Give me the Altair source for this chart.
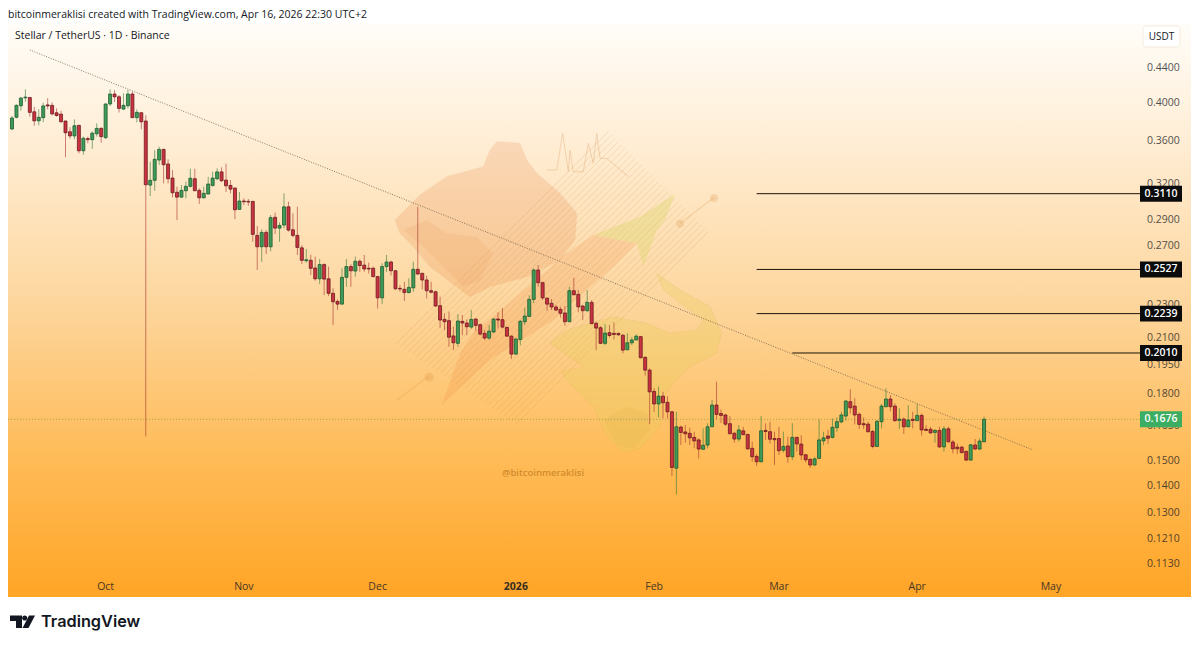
import altair as alt
import pandas as pd

# Daily XLM/USDT candles
opens = [
    .3713, .3834, .3957, .4044, .4047, .3892, .3797, .3830, .3966, .3961,
    .3881, .3867, .3795, .3685, .3643, .3750, .3498, .3616, .3606, .3665,
    .3719, .3626, .3976, .4086, .4055, .3921, .3957, .4086, .3830, .3882,
    .3795, .3184, .3226, .3410, .3511, .3373, .3246, .3122, .3081, .3135,
    .3173, .3240, .3138, .3075, .3107, .3181, .3240, .3301, .3228, .3181,
    .3158, .2979, .3048, .3045, .3045, .2774, .2689, .2797, .2689, .2915,
    .2830, .2854, .3000, .2817, .2774, .2681, .2588, .2591, .2537, .2463,
    .2561, .2463, .2367, .2315, .2298, .2473, .2547, .2516, .2584, .2557,
    .2535, .2535, .2478, .2338, .2547, .2579, .2518, .2399, .2393, .2372,
    .2403, .2528, .2500, .2455, .2384, .2377, .2288, .2204, .2196, .2106,
    .2064, .2192, .2182, .2158, .2206, .2172, .2121, .2094, .2129, .2206,
    .2202, .2156, .2105, .2004, .2086, .2190, .2222, .2328, .2523, .2437,
    .2336, .2303, .2280, .2265, .2243, .2190, .2384, .2360, .2286, .2257,
    .2309, .2180, .2154, .2064, .2125, .2121, .2121, .2110, .2028, .2067,
    .2083, .2102, .1986, .1918, .1809, .1748, .1786, .1756, .1711, .1466,
    .1641, .1619, .1613, .1595, .1584, .1544, .1562, .1642, .1743, .1703,
    .1696, .1656, .1613, .1588, .1624, .1608, .1548, .1514, .1492, .1626,
    .1620, .1590, .1590, .1540, .1558, .1513, .1595, .1566, .1521, .1502,
    .1479, .1506, .1580, .1601, .1595, .1638, .1664, .1691, .1759, .1738,
    .1699, .1656, .1654, .1621, .1556, .1665, .1735, .1772, .1738, .1671,
    .1677, .1642, .1676, .1670, .1694, .1631, .1631, .1617, .1626, .1554,
    .1633, .1575, .1553, .1553, .1535, .1499, .1562, .1545, .1576,
]
closes = [
    .3826, .3961, .4041, .4052, .3886, .3797, .3834, .3955, .3955, .3870,
    .3853, .3787, .3675, .3643, .3746, .3498, .3620, .3606, .3671, .3719,
    .3636, .3976, .4086, .4055, .3929, .3961, .4086, .3830, .3886, .3787,
    .3187, .3226, .3417, .3511, .3367, .3240, .3118, .3081, .3138, .3173,
    .3244, .3135, .3075, .3113, .3193, .3246, .3301, .3222, .3178, .3149,
    .2976, .3048, .3042, .3040, .2782, .2689, .2797, .2689, .2912, .2830,
    .2851, .3000, .2815, .2774, .2684, .2591, .2595, .2535, .2463, .2561,
    .2461, .2367, .2313, .2298, .2473, .2547, .2518, .2584, .2554, .2530,
    .2530, .2478, .2338, .2547, .2579, .2518, .2397, .2395, .2372, .2406,
    .2528, .2496, .2455, .2384, .2374, .2286, .2200, .2190, .2099, .2067,
    .2194, .2182, .2160, .2204, .2168, .2117, .2094, .2134, .2206, .2200,
    .2158, .2105, .2004, .2088, .2192, .2224, .2328, .2523, .2437, .2338,
    .2298, .2280, .2261, .2241, .2190, .2384, .2358, .2281, .2257, .2309,
    .2178, .2152, .2064, .2123, .2109, .2115, .2113, .2026, .2067, .2083,
    .2105, .1984, .1918, .1807, .1748, .1786, .1754, .1711, .1469, .1642,
    .1617, .1611, .1593, .1580, .1545, .1561, .1642, .1743, .1699, .1694,
    .1654, .1611, .1588, .1628, .1607, .1546, .1513, .1492, .1624, .1621,
    .1587, .1585, .1538, .1556, .1513, .1595, .1567, .1520, .1500, .1479,
    .1504, .1584, .1593, .1591, .1640, .1665, .1696, .1762, .1730, .1696,
    .1653, .1651, .1620, .1556, .1667, .1738, .1772, .1735, .1670, .1677,
    .1642, .1673, .1671, .1694, .1628, .1626, .1615, .1626, .1554, .1633,
    .1576, .1546, .1546, .1530, .1499, .1563, .1545, .1579, .1676,
]
highs = [
    .3847, .3972, .4055, .4139, .4055, .3946, .3918, .3990, .4041, .3994,
    .3929, .3903, .3797, .3731, .3812, .3754, .3636, .3636, .3688, .3770,
    .3731, .3983, .4139, .4131, .4074, .4094, .4131, .4112, .3918, .3886,
    .3856, .3394, .3505, .3537, .3517, .3417, .3318, .3170, .3184, .3213,
    .3330, .3330, .3156, .3170, .3257, .3303, .3333, .3343, .3376, .3228,
    .3164, .3124, .3071, .3065, .3048, .2846, .2820, .2815, .2933, .2952,
    .2875, .3113, .3042, .2947, .3000, .2700, .2672, .2631, .2617, .2600,
    .2570, .2547, .2399, .2328, .2535, .2600, .2564, .2617, .2598, .2629,
    .2575, .2547, .2483, .2570, .2629, .2588, .2523, .2421, .2443, .2466,
    .2581, .3000, .2505, .2483, .2443, .2384, .2345, .2241, .2251, .2160,
    .2235, .2231, .2204, .2261, .2210, .2180, .2140, .2170, .2210, .2247,
    .2273, .2160, .2110, .2094, .2200, .2275, .2354, .2535, .2558, .2443,
    .2338, .2330, .2292, .2281, .2286, .2410, .2470, .2388, .2292, .2388,
    .2324, .2190, .2164, .2176, .2170, .2186, .2125, .2117, .2121, .2098,
    .2115, .2106, .1993, .1927, .1825, .1833, .1807, .1786, .1715, .1711,
    .1647, .1650, .1638, .1620, .1591, .1635, .1658, .1767, .1858, .1722,
    .1700, .1691, .1620, .1650, .1642, .1610, .1576, .1524, .1691, .1658,
    .1665, .1620, .1642, .1620, .1598, .1658, .1598, .1604, .1524, .1506,
    .1510, .1676, .1620, .1628, .1680, .1685, .1711, .1767, .1820, .1775,
    .1708, .1685, .1665, .1628, .1673, .1748, .1825, .1791, .1751, .1727,
    .1685, .1743, .1711, .1748, .1703, .1650, .1642, .1631, .1642, .1645,
    .1642, .1584, .1569, .1559, .1538, .1566, .1588, .1591, .1688,
]
lows = [
    .3702, .3823, .3903, .4001, .3840, .3746, .3750, .3784, .3918, .3853,
    .3840, .3781, .3436, .3616, .3610, .3473, .3460, .3570, .3517, .3636,
    .3576, .3613, .3955, .3998, .3884, .3914, .3929, .3830, .3781, .3710,
    .1600, .3090, .3135, .3364, .3199, .3199, .3079, .2893, .3075, .3071,
    .3164, .3135, .3024, .3071, .3105, .3170, .3228, .3213, .3124, .3113,
    .2901, .2974, .3014, .3008, .2726, .2523, .2581, .2636, .2656, .2784,
    .2726, .2828, .2802, .2759, .2629, .2564, .2575, .2489, .2450, .2428,
    .2356, .2349, .2170, .2261, .2296, .2410, .2410, .2478, .2511, .2511,
    .2500, .2473, .2271, .2298, .2511, .2485, .2388, .2377, .2318, .2367,
    .2376, .2489, .2393, .2334, .2367, .2281, .2154, .2140, .2045, .2026,
    .2045, .2110, .2110, .2148, .2134, .2110, .2083, .2083, .2125, .2150,
    .2150, .2102, .1977, .2000, .2054, .2170, .2220, .2303, .2410, .2324,
    .2257, .2261, .2255, .2214, .2166, .2188, .2354, .2247, .2200, .2251,
    .2176, .2026, .2060, .2054, .2098, .2086, .2106, .2008, .2026, .2054,
    .2083, .1981, .1889, .1654, .1711, .1685, .1680, .1680, .1435, .1364,
    .1562, .1572, .1562, .1548, .1506, .1541, .1548, .1642, .1676, .1660,
    .1645, .1610, .1572, .1576, .1606, .1541, .1492, .1475, .1491, .1584,
    .1569, .1479, .1520, .1530, .1488, .1499, .1534, .1499, .1488, .1468,
    .1476, .1503, .1561, .1566, .1591, .1620, .1658, .1670, .1703, .1653,
    .1632, .1632, .1617, .1548, .1554, .1635, .1732, .1713, .1665, .1632,
    .1610, .1640, .1635, .1669, .1603, .1623, .1610, .1572, .1551, .1534,
    .1573, .1527, .1524, .1527, .1496, .1498, .1541, .1541, .1575,
]

price_ticks = [.44, .40, .36, .32, .29, .27, .23, .21, .195, .18, .165, .15, .14, .13, .121, .113]
month_dates = ["2025-10-01", "2025-11-01", "2025-12-01", "2026-01-01",
               "2026-02-01", "2026-03-01", "2026-04-01", "2026-05-01"]
month_labels = ["Oct", "Nov", "Dec", "2026", "Feb", "Mar", "Apr", "May"]

level_prices = [.3110, .2527, .2239, .2010]
level_starts = ["2026-02-24", "2026-02-24", "2026-02-24", "2026-03-04"]
level_end = "2026-05-21"
last_price = .1676
trend_dates = ["2025-09-14", "2026-04-27"]
trend_prices = [.4610, .1541]

FONT = "Open Sans"
dates = pd.date_range("2025-09-10", periods=len(opens)).strftime("%Y-%m-%d")
candles = pd.DataFrame({"date": dates, "open": opens, "high": highs, "low": lows, "close": closes})
candles["dir"] = ["up" if c >= o else "down" for o, c in zip(opens, closes)]

# padding=0: a bar layer would otherwise pad the time scale and squeeze the candles
x_scale = alt.Scale(type="utc", domain=["2025-09-09T02:28:00Z", "2026-06-01T09:50:00Z"], padding=0)
y_scale = alt.Scale(type="log", domain=[.10301, .4964], nice=False)
X = lambda f: alt.X(f, type="temporal", scale=x_scale, axis=None)
Y = lambda f: alt.Y(f, type="quantitative", scale=y_scale, axis=None)


# watermark and logo outlines, given as page pixels of the crop (view starts at 8,23)
def outline(points, ox=380, oy=120, k=3, close=True):
    pts = [(ox + a / k - 8, oy + b / k - 23) for a, b in points]
    d = "M" + " L".join(f"{a:.1f},{b:.1f}" for a, b in pts)
    return d + (" Z" if close else "")


def dot(a, b, r, ox=380, oy=120, k=3):
    x, y = ox + a / k - 8, oy + b / k - 23
    return f"M{x - r:.1f},{y:.1f} a{r},{r} 0 1,0 {2 * r},0 a{r},{r} 0 1,0 {-2 * r},0 Z"


def symbol(path, **kw):
    return alt.Chart(pd.DataFrame({"a": [0]})).mark_point(shape=path, size=4, **kw).encode(
        x=alt.value(0), y=alt.value(0))


bear = outline([(350, 65), (420, 70), (440, 120), (470, 160), (540, 220), (590, 280), (585, 360),
                (540, 420), (440, 470), (330, 500), (270, 530), (230, 500), (150, 440), (100, 380),
                (60, 340), (45, 300), (80, 265), (120, 225), (200, 170), (310, 140), (330, 90)])
bear_jaw = outline([(70, 330), (140, 300), (200, 340), (290, 350), (340, 400), (300, 480), (250, 500),
                    (170, 420), (130, 380)])
arrow_head = outline([(885, 222), (855, 300), (830, 330), (790, 440), (770, 370), (640, 345), (780, 290)])
arrow_tail = outline([(770, 370), (640, 345), (560, 400), (420, 520), (280, 640), (240, 700), (185, 855),
                      (330, 720), (520, 600), (700, 440)])
bull = outline([(830, 460), (900, 510), (990, 560), (1025, 640), (1010, 700), (930, 740), (880, 790),
                (850, 830), (840, 920), (780, 985), (730, 1000), (680, 950), (640, 860), (560, 780),
                (545, 755), (610, 740), (510, 670), (560, 630), (700, 590), (800, 610), (870, 640),
                (950, 630), (970, 600), (900, 550), (850, 510)])
bull_muzzle = outline([(670, 900), (740, 860), (800, 880), (810, 930), (760, 985), (710, 975)])
spike = outline([(500, 150), (530, 150), (548, 40), (565, 155), (570, 90), (580, 155), (610, 155),
                 (625, 70), (640, 130), (650, 40), (660, 115), (680, 115), (745, 170)], close=False)
hatch = " ".join(
    outline([(90 + (c - 790) * .6, c - 90 - (c - 790) * .6),
             (720 + (c - 790) * .5, c - 720 - (c - 790) * .5)], close=False)
    for c in range(720, 1330, 20))
sticks = " ".join([outline([(50, 840), (145, 770)], close=False), outline([(900, 310), (1000, 235)], close=False)])
dots = " ".join([dot(148, 772, 4.5), dot(1002, 234, 4), dot(900, 311, 4)])
logo_t = outline([(10, 615.5), (22, 615.5), (22, 628), (16, 628), (16, 621), (10, 621)], 0, 0, 1)
logo_s = outline([(29, 615.5), (35, 615.5), (28.5, 628), (22.5, 628)], 0, 0, 1)
logo_c = dot(24.7, 618, 2.6, 0, 0, 1)

background = alt.Chart(pd.DataFrame({"a": [0]})).mark_rect(
    color=alt.Gradient(gradient="linear", x1=0, x2=0, y1=0, y2=1, stops=[
        alt.GradientStop(offset=0, color="#fffdf9"),
        alt.GradientStop(offset=.2, color="#ffeed6"),
        alt.GradientStop(offset=.5, color="#fdd59b"),
        alt.GradientStop(offset=.75, color="#ffbc59"),
        alt.GradientStop(offset=1, color="#ffa526"),
    ])
).encode(x=alt.value(0), x2=alt.value(1183), y=alt.value(0), y2=alt.value(574))

watermark = [
    symbol(hatch, filled=False, stroke="#c0803a", strokeWidth=.7, opacity=.24),
    symbol(bear, filled=True, fill="#e2702b", opacity=.17, stroke="#d0602a", strokeWidth=.5),
    symbol(bear_jaw, filled=True, fill="#d9641e", opacity=.08),
    symbol(arrow_tail, filled=True, fill="#ee7f30", opacity=.17),
    symbol(arrow_head, filled=True, fill="#d9d765", opacity=.34),
    symbol(bull, filled=True, fill="#e8cf5a", opacity=.3, stroke="#d0a93c", strokeWidth=.5),
    symbol(bull_muzzle, filled=True, fill="#d8b040", opacity=.15),
    symbol(spike, filled=False, stroke="#d08a4a", strokeWidth=.8, opacity=.35),
    symbol(sticks, filled=False, stroke="#d88a3a", strokeWidth=1.2, opacity=.22),
    symbol(dots, filled=True, fill="#d88a3a", opacity=.22),
]
handle = alt.Chart(pd.DataFrame({"t": ["@bitcoinmeraklisi"]})).mark_text(
    font=FONT, fontSize=9.5, fontWeight=600, color="#c47a1e", opacity=.75
).encode(x=alt.value(535), y=alt.value(450), text="t:N")

last_line = alt.Chart(pd.DataFrame({"s": ["2025-09-09T03:00:00Z"], "e": [level_end], "p": [last_price]})).mark_rule(
    color="#5c8a3a", strokeWidth=.8, strokeDash=[1, 2], opacity=.7
).encode(x=X("s"), x2="e:T", y=Y("p"))

trend = alt.Chart(pd.DataFrame({"d": trend_dates, "p": trend_prices})).mark_line(
    color="#6b5a48", strokeWidth=.9, strokeDash=[1, 1.5], opacity=.9
).encode(x=X("d"), y=Y("p"))

levels = alt.Chart(pd.DataFrame({"s": level_starts, "e": [level_end] * 4, "p": level_prices})).mark_rule(
    color="#1c1409", strokeWidth=1
).encode(x=X("s"), x2="e:T", y=Y("p"))

base = alt.Chart(candles)
wicks = base.mark_rule(strokeWidth=1, opacity=.6).encode(
    x=X("date"), y=Y("low"), y2="high:Q",
    color=alt.Color("dir:N", scale=alt.Scale(domain=["up", "down"], range=["#2f7a33", "#a8322f"]), legend=None))
bodies = base.mark_bar(size=3, strokeWidth=.8, orient="vertical").encode(
    x=X("date"), y=Y("open"), y2="close:Q",
    color=alt.Color("dir:N", scale=alt.Scale(domain=["up", "down"], range=["#3f9c58", "#cc3340"]), legend=None),
    stroke=alt.Stroke("dir:N", scale=alt.Scale(domain=["up", "down"], range=["#1d5a30", "#6a1a20"]), legend=None))

price_labels = alt.Chart(pd.DataFrame({"p": price_ticks})).transform_calculate(
    label="format(datum.p, '.4f')"
).mark_text(font=FONT, fontSize=10.5, align="left", color="#131722", opacity=.75, dy=1).encode(
    x=alt.value(1139), y=Y("p"), text="label:N")

months = pd.DataFrame({"d": month_dates, "t": month_labels})
month_text = alt.Chart(months[months.t != "2026"]).mark_text(
    font=FONT, fontSize=10.5, color="#131722", opacity=.8
).encode(x=X("d"), y=alt.value(563.5), text="t:N")
year_text = alt.Chart(months[months.t == "2026"]).mark_text(
    font=FONT, fontSize=10.5, fontWeight=700, color="#131722", opacity=.85
).encode(x=X("d"), y=alt.value(563.5), text="t:N")

TAG = "M-1,-0.38 L1,-0.38 L1,0.38 L-1,0.38 Z"
tags = pd.DataFrame({"p": level_prices + [last_price], "c": ["#0b0b0b"] * 4 + ["#3cae63"]})
tag_boxes = alt.Chart(tags).mark_point(shape=TAG, filled=True, size=1764, opacity=1).encode(
    x=alt.value(1153), y=Y("p"), fill=alt.Fill("c:N", scale=None))
tag_text = alt.Chart(tags).transform_calculate(label="format(datum.p, '.4f')").mark_text(
    font=FONT, fontSize=10.5, fontWeight=600, color="white"
).encode(x=alt.value(1153), y=Y("p"), text="label:N")

usdt_box = alt.Chart(pd.DataFrame({"a": [0]})).mark_rect(
    fill="white", stroke="#f2e6d6", cornerRadius=3, strokeWidth=.8
).encode(x=alt.value(1135), x2=alt.value(1172), y=alt.value(3), y2=alt.value(24))
usdt_text = alt.Chart(pd.DataFrame({"t": ["USDT"]})).mark_text(
    font=FONT, fontSize=10, color="#131722"
).encode(x=alt.value(1153.5), y=alt.value(13.5), text="t:N")


def note(text, x, y, size, **kw):
    return alt.Chart(pd.DataFrame({"t": [text]})).mark_text(
        fontSize=size, align="left", **{"font": FONT, "color": "#131722", **kw}
    ).encode(x=alt.value(x), y=alt.value(y), text="t:N")


header = note("bitcoinmeraklisi created with TradingView.com, Apr 16, 2026 22:30 UTC+2", 0, -8, 10.5)
symbol_name = note("Stellar / TetherUS · 1D · Binance", 7, 12.5, 10.5)
brand = note("TradingView", 33, 604, 16.3, font="Inter", fontWeight=600, baseline="alphabetic")
logo = [symbol(p, filled=True, fill="#131722", opacity=1) for p in (logo_t, logo_s, logo_c)]

chart = alt.layer(
    background, *watermark, handle, last_line, trend, levels, wicks, bodies,
    price_labels, month_text, year_text, tag_boxes, tag_text, usdt_box, usdt_text,
    header, symbol_name, brand, *logo
).resolve_scale(color="independent", stroke="independent").properties(
    width=1183, height=574,
    padding={"left": 0, "top": 15, "right": 0, "bottom": 38},
    autosize=alt.AutoSizeParams(type="none"),
    background="white",
).configure_view(stroke=None)

chart.save("out.html", embed_options={"renderer": "svg", "actions": False})
